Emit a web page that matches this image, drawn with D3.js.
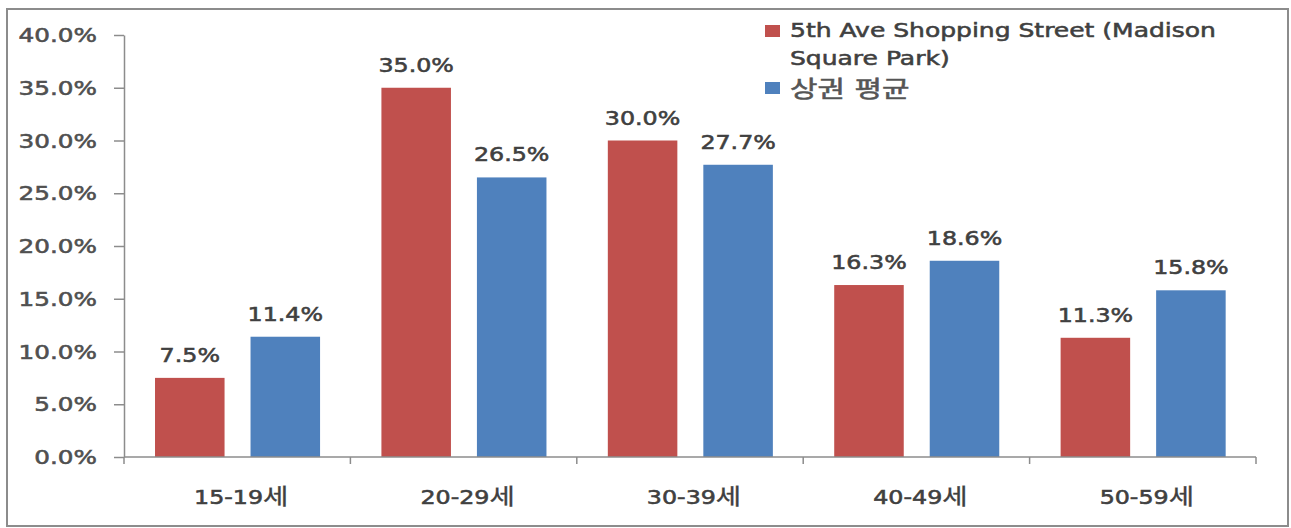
<!DOCTYPE html>
<html>
<head>
<meta charset="utf-8">
<script src="https://cdn.jsdelivr.net/npm/d3@7"></script>
<style>
  html, body { margin: 0; padding: 0; background: #fff; }
  svg { display: block; }
  text { font-family: "DejaVu Sans", "Noto Sans CJK KR", sans-serif; }
  .lbl { stroke-width: 0.55px; paint-order: stroke; }
</style>
</head>
<body>
<svg id="chart" width="1291" height="528"></svg>
<script>
// Age groups and share of visitors per group
const categories = ["15-19세", "20-29세", "30-39세", "40-49세", "50-59세"];
const seriesNames = ["5th Ave Shopping Street (Madison Square Park)", "상권 평균"];
const streetValues = [7.5, 35.0, 30.0, 16.3, 11.3];
const areaAverageValues = [11.4, 26.5, 27.7, 18.6, 15.8];
const yTicks = [0, 5, 10, 15, 20, 25, 30, 35, 40];
const colors = ["#C0504D", "#4F81BD"];

const svg = d3.select("#chart");
const stretch = 1.25; // horizontal text stretch

// outer frame
svg.append("rect")
  .attr("x", 7).attr("y", 9)
  .attr("width", 1281).attr("height", 517)
  .attr("fill", "#fff")
  .attr("stroke", "#8c8c8c").attr("stroke-width", 2);

const plot = { left: 124, right: 1256, top: 35, bottom: 457 };

const x = d3.scaleBand().domain(categories).range([plot.left, plot.right]);
const xInner = d3.scaleBand()
  .domain([0, 1])
  .range([x.bandwidth() * 0.137, x.bandwidth() * 0.866])
  .paddingInner(0.272);
const y = d3.scaleLinear().domain([0, 40]).range([plot.bottom, plot.top]);

const rows = categories.map((c, i) => ({ cat: c, vals: [streetValues[i], areaAverageValues[i]] }));

// bars
const groups = svg.append("g").selectAll("g")
  .data(rows).join("g")
  .attr("transform", d => `translate(${x(d.cat)},0)`);

groups.selectAll("rect")
  .data(d => d.vals.map((v, s) => ({ v, s })))
  .join("rect")
  .attr("x", d => xInner(d.s))
  .attr("width", xInner.bandwidth())
  .attr("y", d => y(d.v))
  .attr("height", d => y(0) - y(d.v))
  .attr("fill", d => colors[d.s]);

// value labels
groups.selectAll("text")
  .data(d => d.vals.map((v, s) => ({ v, s })))
  .join("text")
  .attr("class", "lbl")
  .attr("transform", d => `translate(${xInner(d.s) + xInner.bandwidth() / 2},${y(d.v) - 16}) scale(${stretch},1)`)
  .attr("text-anchor", "middle")
  .attr("font-size", 19)
  .attr("fill", "#404040").attr("stroke", "#404040")
  .text(d => d.v.toFixed(1) + "%");

// y axis
const yAxis = svg.append("g")
  .attr("transform", `translate(${plot.left},0)`)
  .call(d3.axisLeft(y).tickValues(yTicks).tickSize(10).tickSizeOuter(0).tickFormat(d => d.toFixed(1) + "%"));
yAxis.select(".domain").attr("stroke", "#8c8c8c").attr("stroke-width", 1.5);
yAxis.selectAll(".tick line").attr("stroke", "#8c8c8c").attr("stroke-width", 1.5);
yAxis.selectAll(".tick text")
  .attr("class", "lbl")
  .attr("x", -27 / 1.3)
  .attr("dy", "0.35em")
  .attr("transform", "scale(1.3,1)")
  .attr("font-size", 19)
  .attr("font-family", null)
  .attr("fill", "#505050").attr("stroke", "#505050");

// x axis
const xAxisG = svg.append("g").attr("transform", `translate(0,${plot.bottom})`);
xAxisG.append("line")
  .attr("x1", plot.left).attr("x2", plot.right)
  .attr("stroke", "#8c8c8c").attr("stroke-width", 1.5);
const boundaries = categories.map(c => x(c)).concat([plot.right]);
xAxisG.selectAll("line.tick")
  .data(boundaries).join("line")
  .attr("class", "tick")
  .attr("x1", d => d).attr("x2", d => d)
  .attr("y1", 0).attr("y2", 7)
  .attr("stroke", "#8c8c8c").attr("stroke-width", 1.5);
const xLabels = xAxisG.selectAll("text")
  .data(categories).join("text")
  .attr("class", "lbl")
  .attr("transform", d => `translate(${x(d) + x.bandwidth() / 2 + 4},47) scale(${stretch},1)`)
  .attr("text-anchor", "middle")
  .attr("font-size", 19)
  .attr("fill", "#404040").attr("stroke", "#404040");
xLabels.append("tspan").text(d => d.replace("세", ""));
xLabels.append("tspan").attr("font-size", 22).attr("stroke-width", 0.3).text("세");

// legend
const legend = svg.append("g").attr("transform", "translate(765,0)");
const legendLines = [["5th Ave Shopping Street (Madison", "Square Park)"], ["상권 평균"]];
const legendY = [25, 82];
const legendSize = [20, 23];
const legendInk = ["#404040", "#555555"];
legendLines.forEach((lines, s) => {
  legend.append("rect")
    .attr("x", 0).attr("y", legendY[s])
    .attr("width", 15).attr("height", 12)
    .attr("fill", colors[s]);
  lines.forEach((t, k) => {
    legend.append("text")
      .attr("class", "lbl")
      .attr("transform", `translate(25,${legendY[s] + (s === 0 ? 12 : 15) + k * 28}) scale(${s === 0 ? stretch : 1.3},1)`)
      .attr("font-size", legendSize[s])
      .attr("stroke-width", s === 0 ? 0.55 : 0)
      .attr("fill", legendInk[s]).attr("stroke", legendInk[s])
      .text(t);
  });
});
</script>
</body>
</html>
